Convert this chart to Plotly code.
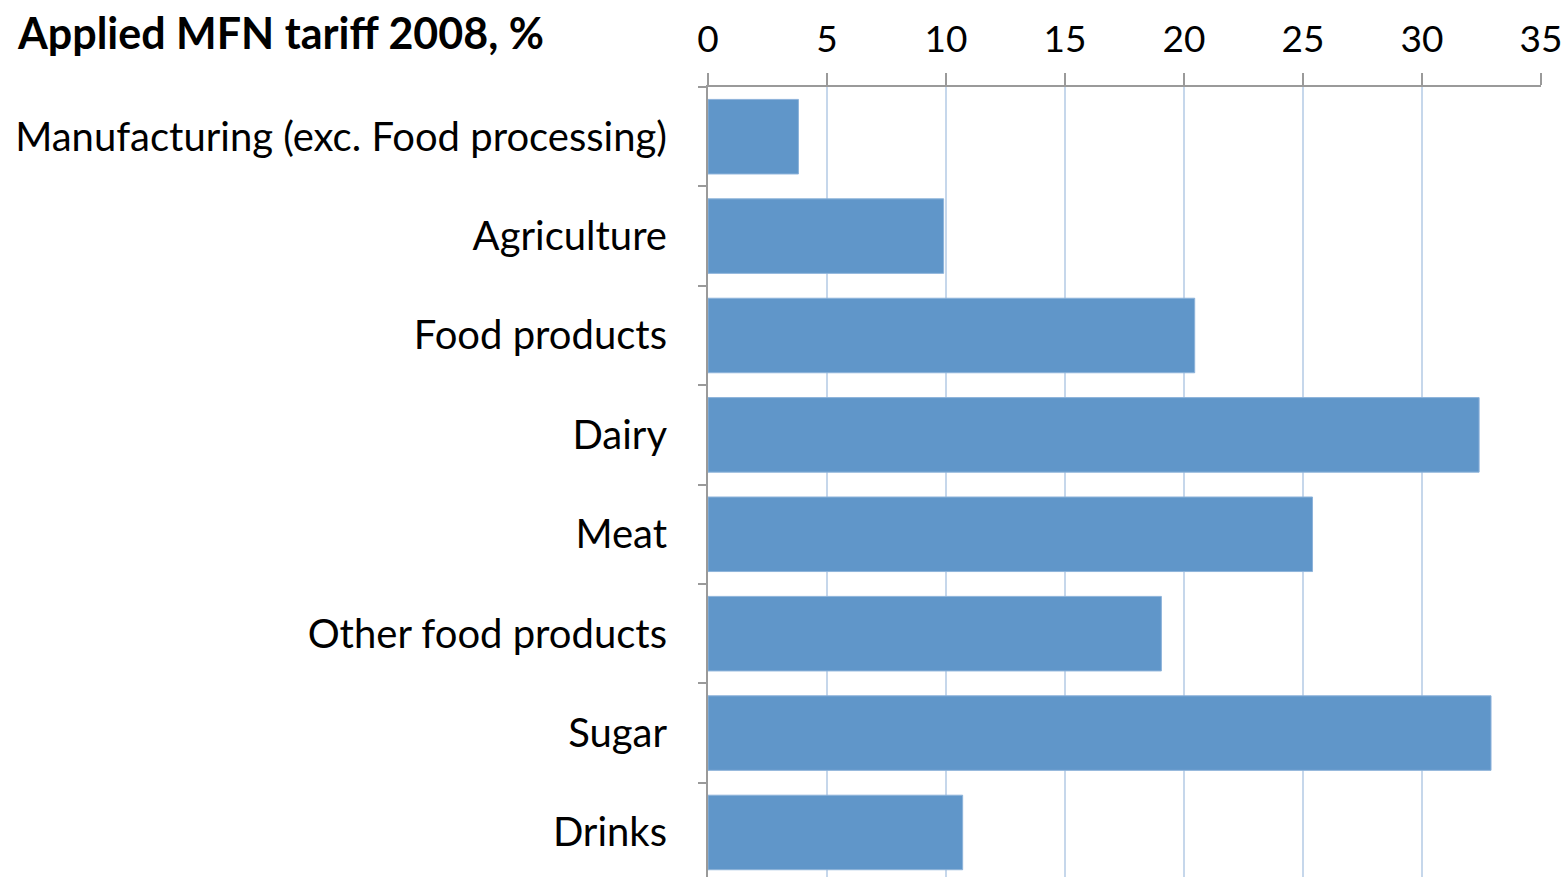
import plotly.graph_objects as go

categories = ["Manufacturing (exc. Food processing)", "Agriculture", "Food products",
              "Dairy", "Meat", "Other food products", "Sugar", "Drinks"]
values = [3.8, 9.9, 20.45, 32.4, 25.4, 19.05, 32.9, 10.7]
x_ticks = [0, 5, 10, 15, 20, 25, 30, 35]

FONT = "Lato"

fig = go.Figure(go.Bar(
    y=categories, x=values, orientation="h",
    marker=dict(color="#6096C9", line=dict(color="#8DB3DA", width=1)),
    width=0.75,
))

fig.update_layout(
    width=1565, height=877,
    margin=dict(l=708, r=24, t=87, b=0, pad=0),
    paper_bgcolor="white", plot_bgcolor="white",
    showlegend=False,
    font=dict(family=FONT, color="black"),
    annotations=[dict(
        text="<b>Applied MFN tariff 2008, %</b>", xref="paper", yref="paper",
        x=-708/833, xanchor="left", xshift=15, y=1, yshift=55, yanchor="middle",
        showarrow=False, font=dict(family=FONT, size=43, color="black"))],
)

fig.update_xaxes(
    side="top", range=[0, 35], tickvals=x_ticks, ticktext=[str(t) for t in x_ticks],
    showgrid=True, gridcolor="#C6D7EB", gridwidth=1.5,
    showline=True, linecolor="#9A9A9A", linewidth=2,
    ticks="outside", ticklen=12, tickcolor="#9A9A9A", tickwidth=2,
    tickfont=dict(family=FONT, size=37, color="black"),
    ticklabelstandoff=6, zeroline=False, fixedrange=True,
)
fig.update_yaxes(
    type="category", categoryorder="array", categoryarray=categories,
    range=[7.448, -0.5], tickson="boundaries",
    showline=True, linecolor="#9A9A9A", linewidth=2,
    ticks="outside", ticklen=8, tickcolor="#9A9A9A", tickwidth=2,
    tickfont=dict(family=FONT, size=40, color="black"),
    ticklabelstandoff=31, showgrid=False, zeroline=False,
)

fig.write_html("out.html")
